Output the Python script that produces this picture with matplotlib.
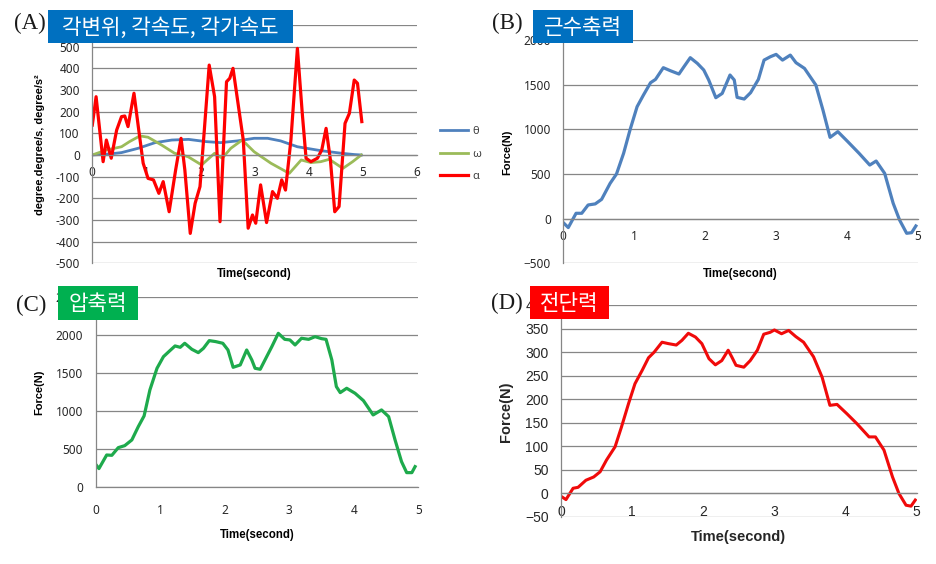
import matplotlib
matplotlib.use('Agg')
import matplotlib.pyplot as plt
from matplotlib.patches import Rectangle

plt.rcParams['font.family'] = ['Noto Sans', 'DejaVu Sans']

# ---------------- data ----------------
# Panel A: angular displacement / velocity / acceleration
t_theta = [0, 0.33, 0.54, 0.85, 1.16, 1.47, 1.78, 2.09, 2.37, 2.68, 2.99, 3.24, 3.48, 3.79, 4.22, 4.60, 4.84, 4.97]
theta = [0, 5, 11, 31, 57, 69, 72, 62, 57, 65, 77, 77, 65, 38, 20, 8, 2, 0]

t_omega = [0, 0.26, 0.54, 0.69, 0.88, 1.03, 1.28, 1.52, 1.77, 2.02, 2.26, 2.40, 2.56, 2.77, 2.99, 3.30,
           3.64, 3.86, 4.04, 4.22, 4.38, 4.63, 4.81, 4.97]
omega = [0, 23, 38, 62, 88, 82, 46, 8, -8, -46, 8, -15, 31, 69, 15, -38, -85, -23, -35, -31, -20, -62, -31, 0]

t_alpha = [0, 0.07, 0.2, 0.26, 0.35, 0.45, 0.54, 0.60, 0.66, 0.77, 0.85, 0.94, 1.03, 1.13, 1.23, 1.31, 1.42,
           1.54, 1.64, 1.71, 1.81, 1.90, 1.99, 2.07, 2.16, 2.26, 2.36, 2.48, 2.54, 2.60, 2.71, 2.79, 2.88,
           2.96, 3.02, 3.11, 3.22, 3.33, 3.42, 3.50, 3.57, 3.67, 3.79, 3.88, 3.95, 4.04, 4.16, 4.24, 4.32,
           4.40, 4.48, 4.56, 4.67, 4.75, 4.84, 4.90, 4.98]
alpha = [138, 269, -31, 69, -15, 115, 177, 180, 131, 285, 131, -38, -108, -115, -177, -123, -262,
         -69, 77, -69, -362, -223, -146, 115, 415, 269, -308, 338, 354, 400, 208, 69, -338,
         -277, -315, -138, -312, -169, -200, -115, -162, 69, 492, 192, -15, -31, -15, 23, 123,
         -23, -262, -238, 146, 192, 346, 331, 154]

# Panel B: muscle force
t_B = [0, 0.07, 0.18, 0.26, 0.35, 0.45, 0.54, 0.66, 0.75, 0.85, 0.94, 1.04, 1.13, 1.23, 1.30, 1.41, 1.51,
       1.63, 1.70, 1.79, 1.89, 1.98, 2.05, 2.15, 2.24, 2.35, 2.41, 2.45, 2.55, 2.64, 2.75, 2.83, 2.92,
       3.0, 3.09, 3.2, 3.28, 3.40, 3.56, 3.66, 3.76, 3.87, 4.01, 4.17, 4.32, 4.41, 4.53, 4.65, 4.74,
       4.84, 4.91, 4.97]
F_B = [-45, -100, 60, 60, 153, 165, 216, 395, 500, 731, 992, 1253, 1384, 1522, 1559, 1690, 1656,
       1619, 1700, 1802, 1738, 1664, 1552, 1354, 1402, 1608, 1552, 1358, 1339, 1410, 1559, 1775, 1813,
       1839, 1775, 1831, 1746, 1682, 1496, 1216, 910, 974, 862, 731, 600, 645, 507, 172, -15,
       -164, -157, -82]

# Panel C: compressive force
t_C = [0, 0.05, 0.17, 0.25, 0.35, 0.45, 0.56, 0.66, 0.75, 0.84, 0.95, 1.05, 1.15, 1.23, 1.31, 1.38, 1.49,
       1.59, 1.67, 1.76, 1.86, 1.97, 2.05, 2.13, 2.24, 2.34, 2.42, 2.47, 2.55, 2.65, 2.73, 2.83, 2.93,
       3.01, 3.09, 3.19, 3.30, 3.40, 3.50, 3.57, 3.66, 3.73, 3.79, 3.89, 4.02, 4.15, 4.30, 4.43, 4.54,
       4.64, 4.74, 4.82, 4.90, 4.95]
F_C = [303, 246, 425, 421, 522, 548, 623, 798, 939, 1281, 1566, 1719, 1798, 1860, 1842, 1895, 1816,
       1772, 1829, 1930, 1917, 1895, 1807, 1579, 1610, 1807, 1675, 1566, 1553, 1719, 1851, 2026, 1947,
       1939, 1873, 1961, 1947, 1982, 1956, 1947, 1675, 1325, 1246, 1303, 1237, 1140, 952, 1018, 930,
       623, 338, 193, 193, 272]

# Panel D: shear force
t_D = [0, 0.07, 0.17, 0.24, 0.35, 0.46, 0.55, 0.64, 0.76, 0.85, 0.95, 1.04, 1.14, 1.23, 1.31, 1.42, 1.51,
       1.62, 1.70, 1.79, 1.89, 1.98, 2.08, 2.17, 2.26, 2.35, 2.40, 2.46, 2.57, 2.66, 2.76, 2.85, 2.94,
       3.0, 3.10, 3.20, 3.30, 3.41, 3.55, 3.67, 3.78, 3.88, 4.02, 4.16, 4.33, 4.42, 4.54, 4.66, 4.75,
       4.85, 4.92, 4.98]
F_D = [-6, -13, 11, 13, 28, 35, 46, 71, 99, 141, 191, 233, 261, 288, 300, 321, 318,
       315, 325, 340, 332, 318, 286, 273, 282, 304, 290, 272, 268, 282, 304, 338, 342,
       347, 339, 346, 333, 321, 290, 247, 187, 189, 169, 148, 120, 120, 92, 35, 0,
       -25, -27, -14]

yticks_A = list(range(-500, 601, 100))
yticklabels_A = [str(v) for v in range(-500, 501, 100)] + ['']   # 600 is hidden behind the title box
yticks_B = list(range(-500, 2001, 500))
yticks_C = list(range(0, 2501, 500))
yticks_D = list(range(-50, 401, 50))
xticks_A = [0, 1, 2, 3, 4, 5, 6]
xticks_5 = [0, 1, 2, 3, 4, 5]
legend_labels = ['θ', 'ω', 'α']
titles = ['각변위, 각속도, 각가속도', '근수축력', '압축력', '전단력']
panel_tags = ['(A)', '(B)', '(C)', '(D)']

# ---------------- layout ----------------
W, H = 936, 564
fig = plt.figure(figsize=(W / 100, H / 100), dpi=100)
fig.patch.set_facecolor('white')

GRID = '#868686'
TICKC = '#262626'
BOLDF = 'Liberation Sans'


def ax_px(l, t, r, b):
    return fig.add_axes([l / W, 1 - b / H, (r - l) / W, (b - t) / H])


def style(ax, xlim, ylim, xt, yt, zero_axis, fs=8.5, family='Noto Sans', xpad=8):
    ax.set_xlim(*xlim)
    ax.set_ylim(*ylim)
    ax.set_xticks(xt)
    ax.set_yticks(yt)
    ax.patch.set_alpha(0)
    ax.grid(axis='y', color=GRID, lw=0.9)
    ax.set_axisbelow(True)
    for s in ['top', 'right']:
        ax.spines[s].set_visible(False)
    for s in ['left', 'bottom']:
        ax.spines[s].set_color(GRID)
        ax.spines[s].set_linewidth(0.9)
    if zero_axis:
        ax.spines['bottom'].set_position(('data', 0))
    ax.tick_params(axis='both', length=0, labelsize=fs, labelcolor=TICKC, labelfontfamily=family)
    ax.tick_params(axis='x', pad=xpad)
    ax.tick_params(axis='y', pad=9)


def px_text(x, y, s, **kw):
    fig.text(x / W, 1 - y / H, s, **kw)


def title_box(x0, y0, x1, y1, color, s):
    fig.add_artist(Rectangle((x0 / W, 1 - y1 / H), (x1 - x0) / W, (y1 - y0) / H,
                             transform=fig.transFigure, facecolor=color, edgecolor='none', zorder=10))
    px_text((x0 + x1) / 2, (y0 + y1) / 2 + 1, s, color='white', fontsize=15.3, ha='center', va='center',
            family=['Noto Sans CJK KR', 'DejaVu Sans'], zorder=11)


# Panel A
axA = ax_px(92.3, 25, 417, 263.3)
style(axA, (0, 6), (-500, 600), xticks_A, yticks_A, True)
axA.set_yticklabels(yticklabels_A)
lA1, = axA.plot(t_theta, theta, color='#4F81BD', lw=2.0, solid_joinstyle='round')
lA2, = axA.plot(t_omega, omega, color='#9BBB59', lw=2.0, solid_joinstyle='round')
lA3, = axA.plot(t_alpha, alpha, color='#FF0000', lw=2.3, solid_joinstyle='round')
leg = axA.legend([lA1, lA2, lA3], legend_labels, loc='center left',
                 bbox_to_anchor=(440 / W, 1 - 154 / H), bbox_transform=fig.transFigure,
                 frameon=False, fontsize=8, handlelength=2.5, handletextpad=0.4,
                 labelspacing=1.05, borderpad=0, borderaxespad=0)
for txt in leg.get_texts():
    txt.set_color('#404040')
px_text(40, 145, 'degree,degree/s, degree/s²', rotation=90, ha='center', va='center',
        fontsize=7.9, fontweight='bold', color='black', family=BOLDF)
px_text(254, 274, 'Time(second)', ha='center', va='center', fontsize=8.3, fontweight='bold',
        color='black', family=BOLDF)

# Panel B
axB = ax_px(563.3, 40, 918, 263.3)
style(axB, (0, 5), (-500, 2000), xticks_5, yticks_B, True)
axB.plot(t_B, F_B, color='#4F81BD', lw=2.3, solid_joinstyle='round')
px_text(507, 152, 'Force(N)', rotation=90, ha='center', va='center', fontsize=8,
        fontweight='bold', color='black', family=BOLDF)
px_text(740, 274, 'Time(second)', ha='center', va='center', fontsize=8.3, fontweight='bold',
        color='black', family=BOLDF)

# Panel C
axC = ax_px(95.7, 297.3, 418.3, 487.3)
style(axC, (0, 5), (0, 2500), xticks_5, yticks_C, False, xpad=12)
axC.plot(t_C, F_C, color='#1EAA4C', lw=2.3, solid_joinstyle='round')
px_text(39, 392, 'Force(N)', rotation=90, ha='center', va='center', fontsize=8,
        fontweight='bold', color='black', family=BOLDF)
px_text(257, 535, 'Time(second)', ha='center', va='center', fontsize=8.3, fontweight='bold',
        color='black', family=BOLDF)

# Panel D
axD = ax_px(561, 305, 916.7, 517)
style(axD, (0, 5), (-50, 400), xticks_5, yticks_D, True, fs=10, family='Liberation Sans', xpad=8)
axD.plot(t_D, F_D, color='#F00A0A', lw=2.2, solid_joinstyle='round')
px_text(506, 412, 'Force(N)', rotation=90, ha='center', va='center', fontsize=10.5,
        fontweight='bold', color='#262626', family=BOLDF)
px_text(738, 537, 'Time(second)', ha='center', va='center', fontsize=10.5, fontweight='bold',
        color='#262626', family=BOLDF)

# Title boxes and panel tags
title_box(48, 10, 293, 43, '#0070C0', titles[0])
title_box(533, 10, 633, 43, '#0070C0', titles[1])
title_box(58, 286, 138, 320, '#00B050', titles[2])
title_box(530, 286, 609, 319, '#FF0000', titles[3])

for (x, y), tag in zip([(30, 23), (507, 23), (31, 305), (507, 303)], panel_tags):
    px_text(x, y, tag, ha='center', va='center', fontsize=16.5, family='Liberation Serif',
            color='#1a1a1a', zorder=12)

fig.savefig('out.png', dpi=100, facecolor='white')
